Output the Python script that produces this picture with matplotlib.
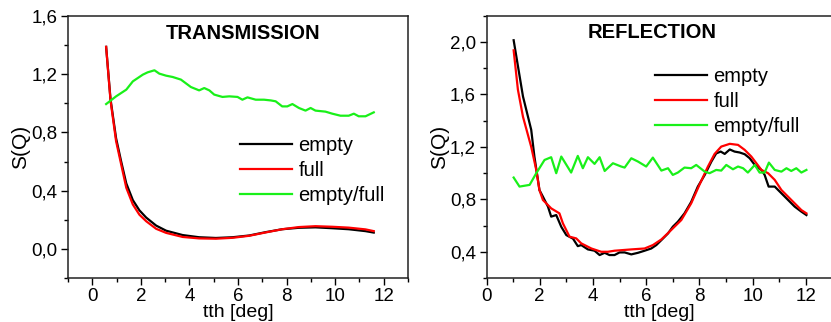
import matplotlib
matplotlib.use("Agg")
import matplotlib.pyplot as plt
from matplotlib.ticker import FuncFormatter, MultipleLocator

plt.rcParams['font.family'] = ['Liberation Sans', 'DejaVu Sans']

# ---- TRANSMISSION data ----
t_x = [0.57, 0.75, 0.98, 1.19, 1.40, 1.67, 1.94, 2.22, 2.63, 3.04, 3.72, 4.40,
       5.09, 5.77, 6.46, 7.14, 7.82, 8.51, 9.19, 9.88, 10.56, 11.25, 11.59]
t_empty = [1.388, 1.03, 0.76, 0.60, 0.45, 0.335, 0.265, 0.215, 0.16, 0.125, 0.095, 0.08,
           0.075, 0.08, 0.092, 0.115, 0.135, 0.145, 0.148, 0.142, 0.135, 0.122, 0.112]
t_full = [1.388, 1.02, 0.74, 0.58, 0.42, 0.305, 0.235, 0.19, 0.138, 0.11, 0.082, 0.072,
          0.07, 0.076, 0.09, 0.113, 0.135, 0.15, 0.156, 0.152, 0.146, 0.134, 0.122]

t_ratio_x = [0.57, 0.98, 1.40, 1.67, 2.08, 2.28, 2.56, 2.76, 3.04, 3.31, 3.65, 4.06,
             4.40, 4.61, 4.82, 5.02, 5.36, 5.64, 5.98, 6.18, 6.39, 6.73, 7.07, 7.35,
             7.55, 7.82, 8.03, 8.24, 8.51, 8.78, 8.99, 9.19, 9.60, 9.88, 10.22, 10.56,
             10.77, 10.97, 11.25, 11.59]
t_ratio = [0.995, 1.048, 1.094, 1.151, 1.197, 1.213, 1.227, 1.204, 1.19, 1.181, 1.163, 1.112,
           1.089, 1.105, 1.089, 1.06, 1.044, 1.048, 1.044, 1.025, 1.041, 1.025, 1.025, 1.02,
           1.014, 0.979, 0.979, 0.995, 0.968, 0.950, 0.968, 0.950, 0.943, 0.929, 0.915, 0.915,
           0.929, 0.911, 0.911, 0.938]

# ---- REFLECTION data ----
r_ex = [1.02, 1.37, 1.68, 1.80, 1.99, 2.12, 2.31, 2.43, 2.62, 2.81, 3.0, 3.25, 3.43, 3.56,
        3.81, 4.06, 4.25, 4.44, 4.62, 4.81, 5.0, 5.19, 5.44, 5.69, 5.94, 6.19, 6.38,
        6.57, 6.82, 7.0, 7.19, 7.44, 7.69, 7.94, 8.2, 8.45, 8.63, 8.8, 8.95, 9.14, 9.32,
        9.51, 9.7, 9.89, 10.08, 10.33, 10.45, 10.6, 10.83, 11.08, 11.33, 11.58, 11.83, 12.02]
r_empty = [2.013, 1.585, 1.33, 1.126, 0.87, 0.82, 0.744, 0.668, 0.68, 0.59, 0.527, 0.50,
           0.443, 0.451, 0.418, 0.408, 0.375, 0.392, 0.375, 0.375, 0.395, 0.395, 0.38,
           0.392, 0.408, 0.425, 0.451, 0.489, 0.54, 0.591, 0.629, 0.693, 0.78, 0.897,
           0.986, 1.088, 1.15, 1.164, 1.146, 1.18, 1.164, 1.157, 1.144, 1.113, 1.062,
           1.024, 0.986, 0.897, 0.897, 0.846, 0.795, 0.744, 0.706, 0.68]

r_fx = [1.02, 1.18, 1.37, 1.68, 1.87, 1.99, 2.12, 2.43, 2.74, 2.87, 3.12, 3.37, 3.56,
        3.94, 4.31, 4.56, 4.81, 5.44, 5.94, 6.25, 6.57, 6.94, 7.32, 7.69, 8.0, 8.32,
        8.57, 8.82, 9.14, 9.45, 9.7, 9.95, 10.14, 10.33, 10.58, 10.83, 11.08, 11.33,
        11.58, 11.83, 12.02]
r_full = [1.936, 1.636, 1.43, 1.20, 1.024, 0.87, 0.795, 0.731, 0.693, 0.617, 0.515, 0.502,
          0.464, 0.425, 0.40, 0.40, 0.408, 0.418, 0.425, 0.451, 0.494, 0.566, 0.642,
          0.769, 0.91, 1.05, 1.146, 1.202, 1.223, 1.215, 1.177, 1.126, 1.075, 1.024,
          0.999, 0.948, 0.871, 0.82, 0.769, 0.718, 0.693]

r_rx = [1.02, 1.24, 1.62, 1.87, 2.18, 2.43, 2.62, 2.81, 3.18, 3.43, 3.62, 3.81, 4.06,
        4.25, 4.44, 4.75, 5.06, 5.19, 5.44, 5.69, 6.0, 6.25, 6.57, 6.82, 7.0, 7.19, 7.44,
        7.69, 7.88, 8.2, 8.38, 8.63, 8.82, 9.01, 9.26, 9.45, 9.64, 9.82, 10.08, 10.26,
        10.45, 10.61, 10.83, 11.08, 11.27, 11.45, 11.64, 11.83, 12.02]
r_ratio = [0.966, 0.897, 0.91, 0.999, 1.10, 1.121, 0.999, 1.126, 1.004, 1.131, 1.037,
           1.121, 1.07, 1.121, 1.016, 1.075, 1.05, 1.042, 1.113, 1.088, 1.05, 1.118, 1.019,
           1.037, 0.986, 1.004, 1.042, 1.037, 1.062, 1.011, 0.999, 1.024, 1.019, 1.062,
           1.029, 1.05, 1.037, 1.004, 1.062, 1.004, 1.004, 1.08, 1.024, 1.011, 1.037,
           1.016, 1.037, 1.004, 1.024]

comma = FuncFormatter(lambda v, p: ('%.1f' % v).replace('.', ','))
green = '#19f019'

fig = plt.figure(figsize=(8.31, 3.22), dpi=100)
ax1 = fig.add_axes([68/831, 44/322, 340/831, 262/322])
ax2 = fig.add_axes([486.5/831, 44/322, 346/831, 262.3/322])


def style(ax):
    for s in ax.spines.values():
        s.set_linewidth(1.1)
        s.set_color('#222222')
    ax.tick_params(direction='out', length=5, width=1, labelsize=13.5, pad=2.5,
                   top=False, right=False)
    ax.tick_params(which='minor', direction='out', length=3, width=1,
                   top=False, right=False)
    ax.xaxis.set_major_locator(MultipleLocator(2))
    ax.xaxis.set_minor_locator(MultipleLocator(1))
    ax.yaxis.set_major_locator(MultipleLocator(0.4))
    ax.yaxis.set_minor_locator(MultipleLocator(0.2))
    ax.yaxis.set_major_formatter(comma)
    ax.set_xlabel('tth [deg]', fontsize=14, labelpad=-1)
    ax.set_ylabel('S(Q)', fontsize=15, labelpad=1)


lw = 1.6
ax1.plot(t_x, t_empty, color='black', lw=lw, label='empty')
ax1.plot(t_x, t_full, color='red', lw=lw, label='full')
ax1.plot(t_ratio_x, t_ratio, color=green, lw=lw, label='empty/full')
ax1.set_xlim(-1, 13)
ax1.set_ylim(-0.2, 1.6)
style(ax1)
ax1.text(0.515, 0.935, 'TRANSMISSION', transform=ax1.transAxes, fontsize=14.5,
         fontweight='bold', ha='center', va='center')
ax1.legend(loc='upper left', bbox_to_anchor=(0.482, 0.573), frameon=False, fontsize=14.5,
           handlelength=2.6, handletextpad=0.3, labelspacing=0.3, borderaxespad=0)

ax2.plot(r_ex, r_empty, color='black', lw=lw, label='empty')
ax2.plot(r_fx, r_full, color='red', lw=lw, label='full')
ax2.plot(r_rx, r_ratio, color=green, lw=lw, label='empty/full')
ax2.set_xlim(0, 13)
ax2.set_ylim(0.2, 2.2)
style(ax2)
ax2.text(0.478, 0.935, 'REFLECTION', transform=ax2.transAxes, fontsize=14.5,
         fontweight='bold', ha='center', va='center')
ax2.legend(loc='upper left', bbox_to_anchor=(0.464, 0.835), frameon=False, fontsize=14.5,
           handlelength=2.6, handletextpad=0.3, labelspacing=0.3, borderaxespad=0)

fig.savefig('out.png', dpi=100)
